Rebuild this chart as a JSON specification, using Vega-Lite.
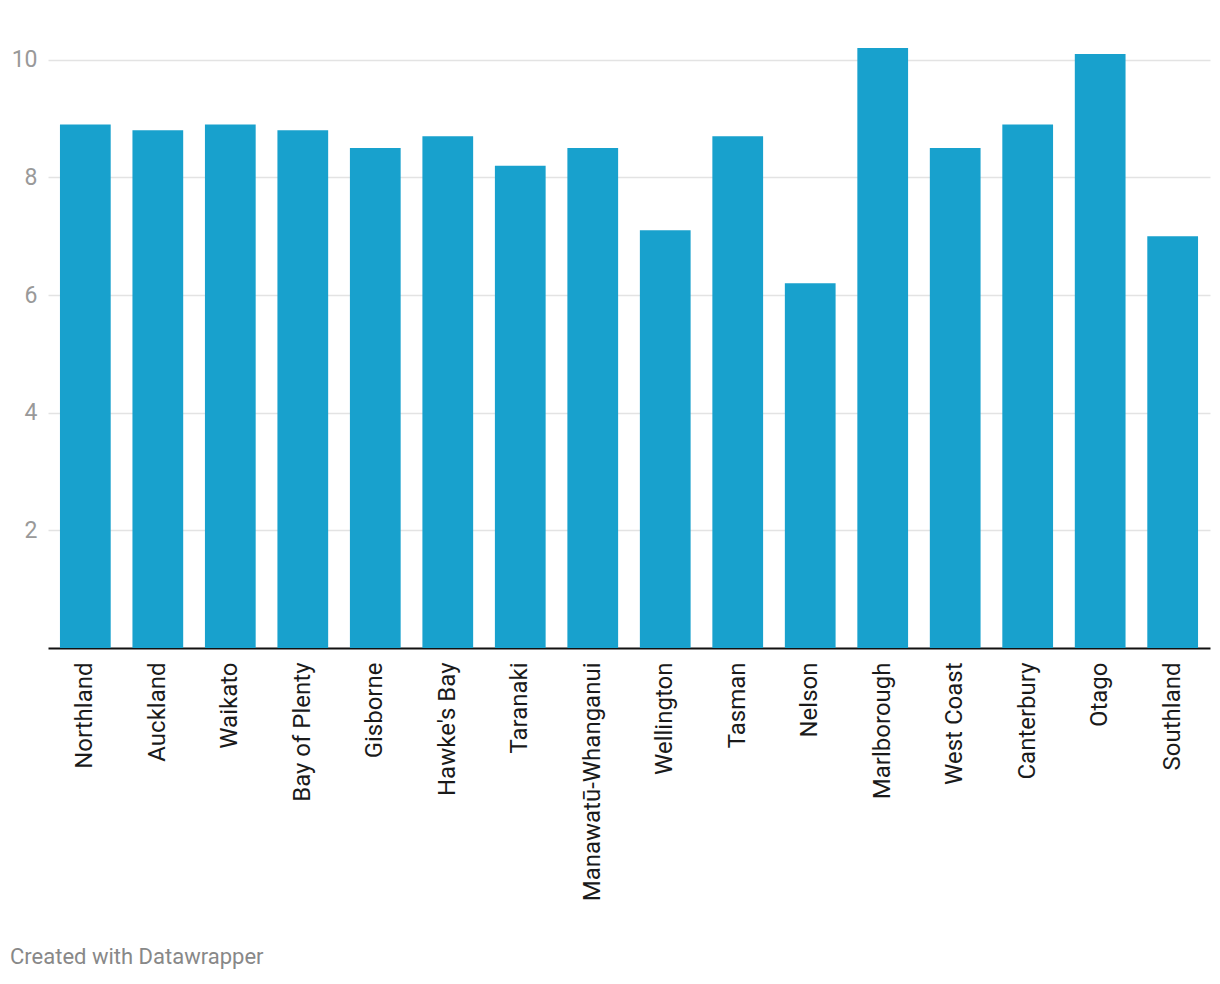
{
  "$schema": "https://vega.github.io/schema/vega-lite/v6.json",
  "autosize": "none",
  "width": 1162,
  "height": 600,
  "padding": {"left": 48, "top": 48, "right": 10, "bottom": 336},
  "background": "white",
  "data": {"values": [
    {"region": "Northland", "value": 8.9},
    {"region": "Auckland", "value": 8.8},
    {"region": "Waikato", "value": 8.9},
    {"region": "Bay of Plenty", "value": 8.8},
    {"region": "Gisborne", "value": 8.5},
    {"region": "Hawke's Bay", "value": 8.7},
    {"region": "Taranaki", "value": 8.2},
    {"region": "Manawatū-Whanganui", "value": 8.5},
    {"region": "Wellington", "value": 7.1},
    {"region": "Tasman", "value": 8.7},
    {"region": "Nelson", "value": 6.2},
    {"region": "Marlborough", "value": 10.2},
    {"region": "West Coast", "value": 8.5},
    {"region": "Canterbury", "value": 8.9},
    {"region": "Otago", "value": 10.1},
    {"region": "Southland", "value": 7.0}
  ]},
  "title": {
    "text": "Created with Datawrapper",
    "orient": "bottom",
    "anchor": "start",
    "frame": "group",
    "dx": -38,
    "offset": 46,
    "font": "Roboto",
    "fontSize": 22,
    "fontWeight": "normal",
    "color": "#888888"
  },
  "config": {
    "view": {"stroke": null},
    "font": "Roboto"
  },
  "mark": {"type": "bar", "color": "#18a1cd"},
  "encoding": {
    "x": {
      "field": "region",
      "type": "nominal",
      "sort": null,
      "scale": {"paddingInner": 0.3, "paddingOuter": 0.165},
      "axis": {
        "title": null,
        "labelAngle": -90,
        "labelAlign": "right",
        "labelBaseline": "middle",
        "labelFont": "Roboto",
        "labelFontSize": 24,
        "labelColor": "#1a1a1a",
        "labelPadding": 14,
        "ticks": false,
        "domainColor": "#111111",
        "domainWidth": 2,
        "labelLimit": 400
      }
    },
    "y": {
      "field": "value",
      "type": "quantitative",
      "scale": {"domain": [0, 10.2], "nice": false},
      "axis": {
        "title": null,
        "values": [2, 4, 6, 8, 10],
        "domain": false,
        "ticks": false,
        "labelFont": "Roboto",
        "labelFontSize": 23,
        "labelColor": "#999999",
        "labelPadding": 11,
        "gridColor": "#e3e3e3",
        "gridWidth": 1.5
      }
    }
  }
}
